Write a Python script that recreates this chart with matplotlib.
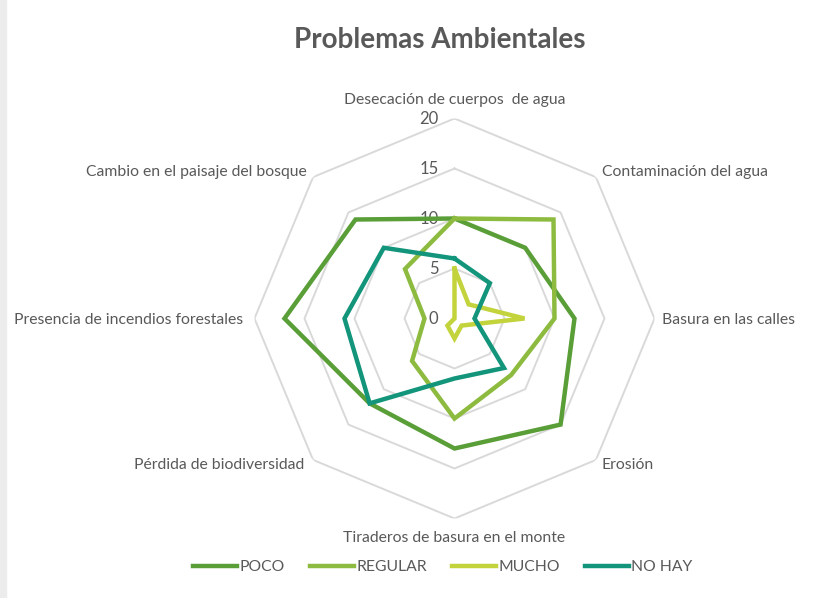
import numpy as np
import matplotlib
matplotlib.use('Agg')
import matplotlib.pyplot as plt
from matplotlib.patches import Rectangle

# Datos
categorias = ['Desecación de cuerpos  de agua', 'Contaminación del agua', 'Basura en las calles',
              'Erosión', 'Tiraderos de basura en el monte', 'Pérdida de biodiversidad',
              'Presencia de incendios forestales', 'Cambio en el paisaje del bosque']
poco = [10, 10, 12, 15, 13, 12, 17, 14]
regular = [10, 14, 10, 8, 10, 6, 3, 7]
mucho = [5, 2, 7, 1, 2, 1, 0, 0]
no_hay = [6, 5, 2, 7, 6, 12, 11, 10]
series = ['POCO', 'REGULAR', 'MUCHO', 'NO HAY']
ticks_r = [0, 5, 10, 15, 20]

colores = ['#5a9e38', '#8dbb3f', '#c3d33b', '#12957a']
gris = '#595959'

plt.rcParams['font.family'] = ['Lato', 'DejaVu Sans']

fig = plt.figure(figsize=(8.28, 5.98), dpi=100)
fig.patch.set_facecolor('white')
fig.patches.append(Rectangle((0, 0), 6 / 828, 1, transform=fig.transFigure,
                             color='#ececec', zorder=0))

cx, cy, R = 454.5, 318.5, 200
ax = fig.add_axes([(cx - R) / 828, 1 - (cy + R) / 598, 2 * R / 828, 2 * R / 598],
                  projection='polar')
ax.set_theta_offset(np.pi / 2)
ax.set_theta_direction(-1)
ax.set_ylim(0, 20)
ax.set_xticks([])
ax.set_yticks([])
ax.grid(False)
ax.spines['polar'].set_visible(False)
ax.patch.set_alpha(0)

n = len(categorias)
angulos = np.linspace(0, 2 * np.pi, n, endpoint=False)
cerrado = np.append(angulos, angulos[0])

# Rejilla octogonal
for r in ticks_r[1:]:
    ax.plot(cerrado, [r] * (n + 1), color='#d9d9d9', lw=1.4, zorder=1)

# Series
for nombre, vals, c in zip(series, [poco, regular, mucho, no_hay], colores):
    ax.plot(cerrado, vals + vals[:1], color=c, lw=3.2, label=nombre,
            solid_joinstyle='miter', zorder=3)

# Etiquetas del eje radial
for r in ticks_r:
    ax.annotate(str(r), xy=(0, r), xytext=(-16, 0), textcoords='offset pixels',
                ha='right', va='center', fontsize=12, color=gris, zorder=2)

# Etiquetas de categorías
offsets = [(0, 19, 'center'), (6, 5, 'left'), (8, -1, 'left'), (6, -5, 'left'),
           (0, -19, 'center'), (-9, -5, 'right'), (-11, -1, 'right'), (-6, 5, 'right')]
for ang, cat, (dx, dy, ha) in zip(angulos, categorias, offsets):
    ax.annotate(cat, xy=(ang, 20), xytext=(dx, dy), textcoords='offset pixels',
                ha=ha, va='center', fontsize=11.3, color=gris, annotation_clip=False)

fig.text(440 / 828, 1 - 40 / 598, 'Problemas Ambientales', ha='center', va='center',
         fontsize=20, fontweight='bold', color=gris)

leg = fig.legend(loc='center', bbox_to_anchor=(443 / 828, 1 - 567 / 598), ncol=4,
                 frameon=False, fontsize=11.3, handlelength=2.8, handletextpad=0.15,
                 columnspacing=1.6)
for t in leg.get_texts():
    t.set_color(gris)

fig.savefig('out.png', dpi=100)
